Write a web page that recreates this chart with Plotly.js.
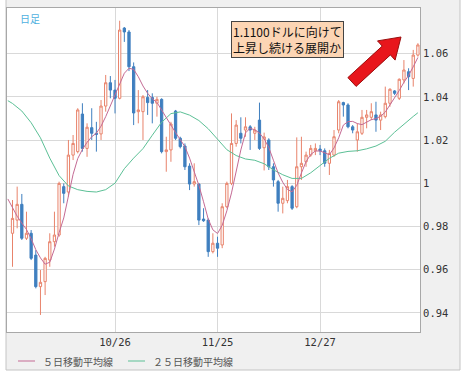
<!DOCTYPE html>
<html>
<head>
<meta charset="utf-8">
<script src="https://cdn.plot.ly/plotly-3.0.1.min.js"></script>
<style>html,body{margin:0;padding:0;background:#fff;}#chart{width:466px;height:378px;}</style>
</head>
<body>
<div id="chart"></div>
<script>
// Daily candles (index 0 .. 87)
const OPEN  = [0.9769,0.9830,0.9903,0.9746,0.9769,0.9668,0.9522,0.9545,0.9645,0.9730,
               0.9761,0.9985,0.9960,1.0131,1.0147,1.0321,1.0162,1.0258,1.0232,1.0229,
               1.0358,1.0466,1.0432,1.0394,1.0719,1.0701,1.0540,1.0332,1.0332,1.0398,
               1.0398,1.0371,1.0389,1.0147,1.0155,1.0335,1.0209,1.0173,1.0080,0.9997,
               0.9997,0.9835,0.9830,0.9684,0.9723,0.9715,0.9892,1.0000,1.0185,1.0232,
               1.0247,1.0262,1.0232,1.0293,1.0165,1.0201,1.0077,1.0008,0.9908,0.9920,
               0.9985,0.9892,1.0077,1.0100,1.0131,1.0151,1.0159,1.0151,1.0093,1.0131,
               1.0247,1.0374,1.0363,1.0262,1.0201,1.0232,1.0306,1.0306,1.0317,1.0293,
               1.0309,1.0371,1.0428,1.0394,1.0479,1.0517,1.0486,1.0594];
const HIGH  = [0.9923,0.9985,0.9951,0.9869,0.9784,0.9691,0.9599,0.9660,0.9769,0.9869,
               1.0008,1.0000,1.0201,1.0224,1.0348,1.0371,1.0278,1.0348,1.0285,1.0386,
               1.0502,1.0497,1.0479,1.0753,1.0724,1.0710,1.0560,1.0432,1.0409,1.0432,
               1.0417,1.0401,1.0394,1.0216,1.0285,1.0340,1.0216,1.0185,1.0093,1.0093,
               1.0000,0.9885,0.9838,0.9769,0.9753,0.9908,1.0008,1.0324,1.0293,1.0306,
               1.0306,1.0270,1.0262,1.0374,1.0235,1.0209,1.0093,1.0016,0.9985,1.0016,
               0.9992,1.0213,1.0216,1.0147,1.0178,1.0185,1.0178,1.0162,1.0155,1.0247,
               1.0386,1.0378,1.0371,1.0270,1.0278,1.0340,1.0340,1.0371,1.0378,1.0332,
               1.0448,1.0440,1.0432,1.0486,1.0571,1.0533,1.0618,1.0649];
const LOW   = [0.9614,0.9792,0.9738,0.9738,0.9645,0.9514,0.9391,0.9483,0.9614,0.9707,
               0.9753,0.9908,0.9938,1.0108,1.0139,1.0147,1.0123,1.0201,1.0147,1.0201,
               1.0332,1.0394,1.0324,1.0389,1.0655,1.0520,1.0270,1.0278,1.0201,1.0317,
               1.0278,1.0309,1.0139,1.0054,1.0100,1.0201,1.0162,1.0062,0.9969,0.9985,
               0.9807,0.9822,0.9660,0.9676,0.9660,0.9700,0.9885,0.9992,1.0170,1.0185,
               1.0216,1.0155,1.0201,1.0155,1.0060,1.0062,0.9985,0.9869,0.9861,0.9908,
               0.9877,0.9885,1.0016,1.0077,1.0123,1.0131,1.0131,1.0077,1.0039,1.0123,
               1.0232,1.0309,1.0255,1.0232,1.0147,1.0224,1.0255,1.0293,1.0239,1.0247,
               1.0301,1.0355,1.0409,1.0386,1.0463,1.0432,1.0448,1.0587];
const CLOSE = [0.9838,0.9903,0.9746,0.9769,0.9653,0.9522,0.9542,0.9653,0.9730,0.9761,
               1.0000,0.9954,1.0131,1.0185,1.0340,1.0162,1.0260,1.0232,1.0227,1.0358,
               1.0466,1.0432,1.0394,1.0710,1.0701,1.0540,1.0326,1.0340,1.0401,1.0374,
               1.0371,1.0389,1.0147,1.0155,1.0275,1.0209,1.0170,1.0077,0.9997,1.0008,
               0.9830,0.9827,0.9684,0.9723,0.9700,0.9892,1.0000,1.0185,1.0270,1.0209,
               1.0262,1.0247,1.0247,1.0162,1.0215,1.0077,1.0016,0.9908,0.9931,0.9985,
               0.9885,1.0077,1.0093,1.0131,1.0162,1.0162,1.0151,1.0093,1.0139,1.0216,
               1.0378,1.0363,1.0262,1.0247,1.0239,1.0306,1.0317,1.0332,1.0293,1.0317,
               1.0371,1.0436,1.0417,1.0482,1.0525,1.0494,1.0594,1.0641];

// 5-day moving average, one value per day (first value is the day before the first candle)
const MA5_DAY = [-1,0,1,2,3,4,5,6,7,8,9,10,11,12,13,14,15,16,17,18,19,20,21,22,23,24,25,26,27,28,29,
                 30,31,32,33,34,35,36,37,38,39,40,41,42,43,44,45,46,47,48,49,50,51,52,53,54,55,56,57,58,59,
                 60,61,62,63,64,65,66,67,68,69,70,71,72,73,74,75,76,77,78,79,80,81,82,83,84,85,86,87];
const MA5 = [0.9928,0.9886,0.9848,0.9816,0.9787,0.9744,0.9693,0.9655,0.9626,0.9635,0.9696,
             0.9772,0.9840,0.9941,1.0042,1.0115,1.0157,1.0190,1.0216,1.0232,1.0265,
             1.0309,1.0359,1.0409,1.0460,1.0510,1.0533,1.0528,1.0494,1.0451,1.0417,
             1.0392,1.0375,1.0340,1.0300,1.0267,1.0235,1.0203,1.0170,1.0117,1.0057,
             0.9991,0.9915,0.9835,0.9785,0.9768,0.9806,0.9873,0.9956,1.0056,1.0155,
             1.0234,1.0255,1.0248,1.0233,1.0206,1.0166,1.0107,1.0048,1.0005,0.9972,
             0.9961,0.9991,1.0048,1.0101,1.0134,1.0150,1.0150,1.0143,1.0133,1.0164,
             1.0211,1.0270,1.0286,1.0287,1.0277,1.0272,1.0282,1.0295,1.0300,1.0311,
             1.0330,1.0362,1.0395,1.0430,1.0468,1.0500,1.0540,1.0583];

// 25-day moving average, read every second day
const MA25_DAY = [-1,0,2,4,6,8,10,12,14,16,18,20,22,24,26,28,30,32,34,36,38,40,42,44,
                  46,48,50,52,54,56,58,60,62,64,66,68,70,72,74,76,78,80,82,84,86,87];
const MA25 = [1.0383,1.0370,1.0335,1.0281,1.0211,1.0117,1.0036,0.9988,0.9971,0.9963,0.9960,
              0.9971,1.0001,1.0068,1.0117,1.0161,1.0223,1.0283,1.0323,1.0331,1.0316,
              1.0291,1.0253,1.0207,1.0156,1.0129,1.0113,1.0107,1.0091,1.0063,1.0040,
              1.0023,1.0023,1.0049,1.0082,1.0116,1.0140,1.0148,1.0151,1.0160,1.0173,
              1.0195,1.0237,1.0275,1.0310,1.0327];

const TICK_DAYS   = [22, 44, 66];
const TICK_LABELS = ['10/26', '11/25', '12/27'];
const Y_TICKS     = [0.94, 0.96, 0.98, 1.00, 1.02, 1.04, 1.06];
const SERIES_NAMES = ['５日移動平均線', '２５日移動平均線'];
const SERIES_COLORS = ['#c46a94', '#5cc096'];

const DAY = OPEN.map((_, i) => i);

const traces = [
  {
    type: 'candlestick', x: DAY, open: OPEN, high: HIGH, low: LOW, close: CLOSE,
    increasing: {line: {color: '#e8836b', width: 1}, fillcolor: '#ffffff'},
    decreasing: {line: {color: '#3f7fbf', width: 1}, fillcolor: '#3f7fbf'},
    showlegend: false, hoverinfo: 'skip'
  },
  {
    type: 'scatter', mode: 'lines', x: MA25_DAY, y: MA25, name: SERIES_NAMES[1],
    line: {color: SERIES_COLORS[1], width: 1}, showlegend: false
  },
  {
    type: 'scatter', mode: 'lines', x: MA5_DAY, y: MA5, name: SERIES_NAMES[0],
    line: {color: SERIES_COLORS[0], width: 1}, showlegend: false
  }
];

const L = 7, R = 46, T = 8, B = 46, W = 466, H = 378;
const pw = W - L - R, ph = H - T - B;
const px = v => (v - L) / pw;
const py = v => (H - B - v) / ph;

const arrowPts = [[347.9,77.6],[382.2,46.1],[377.5,40.9],[401,37],[395.1,60.1],[390.4,54.9],[356.1,86.4]];
const arrowPath = 'M' + arrowPts.map(p => px(p[0]).toFixed(4) + ',' + py(p[1]).toFixed(4)).join('L') + 'Z';

// legend drawn as line samples + labels
const legendX = [18, 128];
const legendShapes = legendX.map((x, i) => ({
  type: 'line', xref: 'paper', yref: 'paper', x0: px(x), x1: px(x + 17), y0: py(361), y1: py(361),
  line: {color: SERIES_COLORS[i], width: 1}
}));
const legendTexts = legendX.map((x, i) => ({
  xref: 'paper', yref: 'paper', x: px(x + 23), y: py(361), xanchor: 'left', yanchor: 'middle',
  text: SERIES_NAMES[i], showarrow: false,
  font: {family: '"Noto Sans CJK JP", sans-serif', size: 10, color: '#555'}
}));

const layout = {
  width: W, height: H,
  margin: {l: L, r: R, t: T, b: B},
  paper_bgcolor: '#ffffff',
  plot_bgcolor: '#ffffff',
  font: {family: '"Noto Sans CJK JP", "DejaVu Sans", sans-serif', size: 10, color: '#333'},
  showlegend: false,
  xaxis: {
    range: [-1.18, 87.45], tickmode: 'array', tickvals: TICK_DAYS, ticktext: TICK_LABELS,
    showgrid: true, gridcolor: '#d9d9d9', gridwidth: 1, zeroline: false,
    showline: true, mirror: true, linecolor: '#a8a8a8', linewidth: 1,
    ticks: '', tickfont: {family: '"DejaVu Sans Mono", monospace', size: 10.5, color: '#333'},
    rangeslider: {visible: false}, fixedrange: true
  },
  yaxis: {
    side: 'right', range: [0.9312, 1.0812], tickmode: 'array', tickvals: Y_TICKS,
    ticktext: Y_TICKS.map(v => String(+v.toFixed(2))),
    showgrid: true, gridcolor: '#d9d9d9', gridwidth: 1, zeroline: false,
    showline: true, mirror: true, linecolor: '#a8a8a8', linewidth: 1,
    ticks: '', tickfont: {family: '"DejaVu Sans Mono", monospace', size: 10.5, color: '#333'},
    fixedrange: true
  },
  shapes: [
    {type: 'rect', xref: 'paper', yref: 'paper', layer: 'below',
     x0: px(6), x1: px(460), y0: py(370), y1: py(-3),
     fillcolor: '#f0f0f0', line: {color: '#c4c4c4', width: 1}},
    {type: 'rect', xref: 'paper', yref: 'paper', layer: 'below',
     x0: 0, x1: 1, y0: 0, y1: 1,
     fillcolor: '#ffffff', line: {width: 0}},
    {type: 'path', xref: 'paper', yref: 'paper', layer: 'above', path: arrowPath,
     fillcolor: '#e8161c', line: {color: '#9b0d0d', width: 1}}
  ].concat(legendShapes),
  annotations: [
    {xref: 'paper', yref: 'paper', x: px(18), y: py(9), xanchor: 'left', yanchor: 'top',
     text: '日足', showarrow: false,
     font: {family: '"Noto Sans CJK JP", sans-serif', size: 10, color: '#4fb0e0'}},
    {xref: 'paper', yref: 'paper', x: px(231), y: py(21), xanchor: 'left', yanchor: 'top',
     text: '1.1100ドルに向けて<br>上昇し続ける展開か', showarrow: false, align: 'left',
     bgcolor: '#fcd5b4', bordercolor: '#444', borderwidth: 1, borderpad: 1,
     font: {family: '"Noto Sans CJK JP", sans-serif', size: 12, color: '#111'}}
  ].concat(legendTexts),
  hovermode: false
};

Plotly.newPlot('chart', traces, layout, {staticPlot: true, displayModeBar: false});
</script>
</body>
</html>
